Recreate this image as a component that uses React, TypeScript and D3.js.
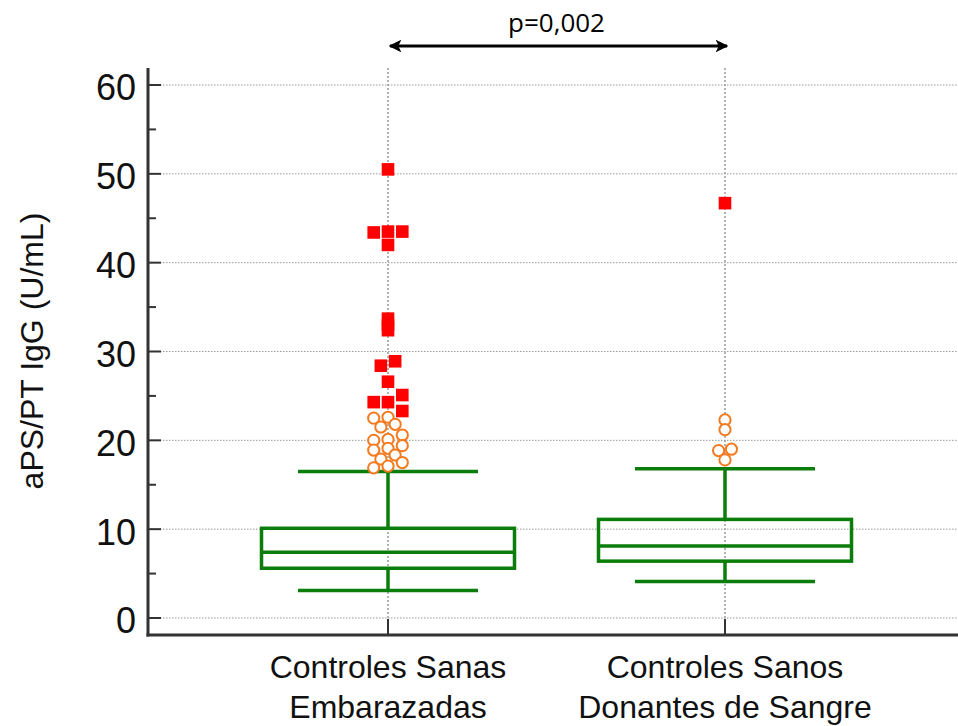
import React from "react";
import * as d3 from "d3";

const categories = ["Controles Sanas\nEmbarazadas", "Controles Sanos\nDonantes de Sangre"];
const whiskerLow = [3.1, 4.1];
const q1 = [5.6, 6.4];
const median = [7.4, 8.1];
const q3 = [10.1, 11.1];
const whiskerHigh = [16.5, 16.8];

// far outliers (red squares)
const farGroup = [0, 0, 0, 0, 0, 0, 0, 0, 0, 0, 0, 0, 0, 0, 0, 1];
const farValue = [50.5, 43.4, 43.5, 43.5, 42.0, 33.7, 33.0, 32.4, 28.9, 28.4, 26.6, 25.1, 24.3, 24.3, 23.3, 46.7];
const farSlot = [0, -1, 0, 1, 0, 0, 0, 0, 0.5, -0.5, 0, 1, -1, 0, 1, 0];

// near outliers (orange circles)
const nearGroup = [0, 0, 0, 0, 0, 0, 0, 0, 0, 0, 0, 0, 0, 0, 0, 1, 1, 1, 1, 1];
const nearValue = [22.5, 22.6, 21.5, 21.8, 20.6, 20.0, 20.1, 19.4, 18.9, 19.1, 18.35, 17.9, 17.5, 16.9, 17.1, 22.3, 21.2, 18.85, 19.0, 17.8];
const nearSlot = [-1, 0, -0.5, 0.5, 1, -1, 0, 1, -1, 0, 0.5, -0.5, 1, -1, 0, 0, 0, -0.45, 0.45, 0];

const yTicks = [0, 10, 20, 30, 40, 50, 60];
const yMinor = [5, 15, 25, 35, 45, 55];
const yLabel = "aPS/PT IgG (U/mL)";
const pLabel = "p=0,002";

export default function App() {
  const W = 958, H = 726;
  const axisX = 148, axisBottom = 635, axisTop = 68;
  const y = d3.scaleLinear().domain([0, 60]).range([618, 85]);
  const x = d3.scalePoint<number>().domain([0, 1]).range([388, 725]);
  const boxW = 253, capW = 180, jit = 14.3;
  const green = "#0a7d0a";
  const grid = "#9a9a9a";
  const font = "'Liberation Sans', Arial, sans-serif";

  return (
    <svg width={W} height={H} style={{ position: "absolute", left: 0, top: 0, background: "#fff" }}>
      {/* grid */}
      {yTicks.map((t) => (
        <line key={"g" + t} x1={axisX} x2={W} y1={y(t)} y2={y(t)} stroke={grid} strokeWidth={1} strokeDasharray="1.5,1.5" />
      ))}
      {[0, 1].map((g) => (
        <line key={"vg" + g} x1={x(g)} x2={x(g)} y1={axisTop} y2={axisBottom} stroke={grid} strokeWidth={1.5} strokeDasharray="2,2" />
      ))}
      {/* axes */}
      <line x1={axisX} x2={axisX} y1={axisTop} y2={axisBottom + 1.5} stroke="#333" strokeWidth={3} />
      <line x1={axisX - 1.5} x2={W} y1={axisBottom} y2={axisBottom} stroke="#333" strokeWidth={3} />
      {yTicks.map((t) => (
        <g key={"t" + t}>
          <line x1={axisX} x2={axisX + 13} y1={y(t)} y2={y(t)} stroke="#333" strokeWidth={2} />
          <text x={136} y={y(t)} dy="0.43em" textAnchor="end" fontFamily={font} fontSize={36} fill="#111">{t}</text>
        </g>
      ))}
      {yMinor.map((t) => (
        <line key={"m" + t} x1={axisX} x2={axisX + 8} y1={y(t)} y2={y(t)} stroke="#333" strokeWidth={2} />
      ))}
      {[0, 1].map((g) => (
        <line key={"xt" + g} x1={x(g)} x2={x(g)} y1={axisBottom} y2={axisBottom - 16} stroke="#333" strokeWidth={2} />
      ))}
      <text transform={`translate(43,351) rotate(-90)`} textAnchor="middle" fontFamily={font} fontSize={32} fill="#111">{yLabel}</text>
      {categories.map((c, g) => (
        <text key={"c" + g} x={x(g)} y={678} textAnchor="middle" fontFamily={font} fontSize={32} fill="#111">
          {c.split("\n").map((line, i) => (
            <tspan key={i} x={x(g)} dy={i === 0 ? 0 : 40}>{line}</tspan>
          ))}
        </text>
      ))}
      {/* boxes */}
      {[0, 1].map((g) => {
        const cx = x(g)!;
        return (
          <g key={"b" + g} stroke={green} strokeWidth={3.5} fill="none">
            <line x1={cx} x2={cx} y1={y(whiskerLow[g])} y2={y(q1[g])} />
            <line x1={cx} x2={cx} y1={y(q3[g])} y2={y(whiskerHigh[g])} />
            <line x1={cx - capW / 2} x2={cx + capW / 2} y1={y(whiskerLow[g])} y2={y(whiskerLow[g])} />
            <line x1={cx - capW / 2} x2={cx + capW / 2} y1={y(whiskerHigh[g])} y2={y(whiskerHigh[g])} />
            <rect x={cx - boxW / 2} y={y(q3[g])} width={boxW} height={y(q1[g]) - y(q3[g])} />
            <line x1={cx - boxW / 2} x2={cx + boxW / 2} y1={y(median[g])} y2={y(median[g])} />
          </g>
        );
      })}
      {/* near outliers */}
      {nearValue.map((v, i) => (
        <circle key={"n" + i} cx={x(nearGroup[i])! + nearSlot[i] * jit} cy={y(v)} r={5.6} fill="#fff" stroke="#f47a20" strokeWidth={2} />
      ))}
      {/* far outliers */}
      {farValue.map((v, i) => (
        <rect key={"f" + i} x={x(farGroup[i])! + farSlot[i] * jit - 6.3} y={y(v) - 6.3} width={12.6} height={12.6} fill="#ff0000" />
      ))}
      {/* p-value arrow */}
      <defs>
        <marker id="ah" viewBox="0 0 10 10" refX="9" refY="5" markerWidth="4.2" markerHeight="4.2" orient="auto-start-reverse">
          <path d="M0,0 L10,5 L0,10 L2.5,5 Z" fill="#000" />
        </marker>
      </defs>
      <line x1={x(0)! + 2} x2={x(1)! + 2} y1={46} y2={46} stroke="#000" strokeWidth={3} markerStart="url(#ah)" markerEnd="url(#ah)" />
      <text x={(x(0)! + x(1)!) / 2} y={32} textAnchor="middle" fontFamily="'Open Sans', Lato, sans-serif" fontSize={26} fill="#000">{pLabel}</text>
    </svg>
  );
}
